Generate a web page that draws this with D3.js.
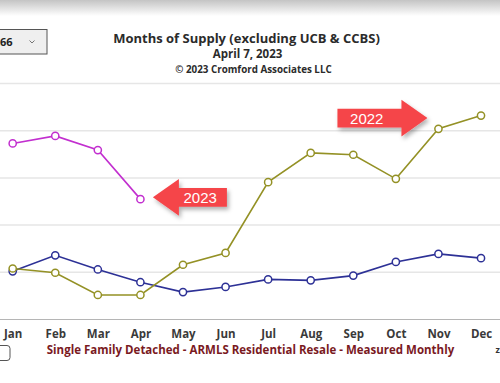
<!DOCTYPE html>
<html><head><meta charset="utf-8">
<script src="https://cdn.jsdelivr.net/npm/d3@7"></script>
<style>html,body{margin:0;padding:0;background:#fff;overflow:hidden}svg{display:block}</style>
</head><body>
<svg id="chart" width="500" height="383"></svg>
<script>
const months = ["Jan","Feb","Mar","Apr","May","Jun","Jul","Aug","Sep","Oct","Nov","Dec"];
const yTicks = [0,1,2,3,4,5];
const s2021 = [1.02,1.36,1.06,0.79,0.58,0.69,0.85,0.83,0.93,1.22,1.39,1.30];
const s2022 = [1.08,0.99,0.52,0.52,1.16,1.41,2.91,3.53,3.49,2.98,4.04,4.32];
const s2023 = [3.73,3.89,3.59,2.55];
const seriesNames = ["2021","2022","2023"];
const seriesColors = ["#2d3196","#949125","#c22fcf"];
const titleText = "Months of Supply (excluding UCB & CCBS)";
const dateText = "April 7, 2023";
const copyText = "© 2023 Cromford Associates LLC";
const footText = "Single Family Detached - ARMLS Residential Resale - Measured Monthly";

const svg = d3.select("#chart");
const defs = svg.append("defs");
const g1 = defs.append("linearGradient").attr("id","topShade").attr("x1",0).attr("x2",0).attr("y1",0).attr("y2",1);
g1.append("stop").attr("offset","0%").attr("stop-color","#c4c4c4");
g1.append("stop").attr("offset","100%").attr("stop-color","#ffffff");
const f = defs.append("filter").attr("id","shadow").attr("x","-20%").attr("y","-30%").attr("width","150%").attr("height","170%");
f.append("feDropShadow").attr("dx",2).attr("dy",3).attr("stdDeviation",2).attr("flood-color","#000").attr("flood-opacity",0.3);

svg.append("rect").attr("x",0).attr("y",0).attr("width",500).attr("height",16).attr("fill","url(#topShade)");

const x = d3.scalePoint().domain(months).range([-8.6, 502.3]).padding(0.5);
const y = d3.scaleLinear().domain([0,5]).range([319.5, 83.5]);

// gridlines
svg.append("g").selectAll("line").data(yTicks.slice(1)).join("line")
  .attr("x1",0).attr("x2",500).attr("y1",d=>y(d)).attr("y2",d=>y(d))
  .attr("stroke","#e6e6e6").attr("stroke-width",1.5);
// baseline
svg.append("line").attr("x1",0).attr("x2",500).attr("y1",y(0)).attr("y2",y(0))
  .attr("stroke","#b5b5b5").attr("stroke-width",1);

// x axis labels
const xAxis = d3.axisBottom(x).tickSize(0).tickPadding(10);
const ax = svg.append("g").attr("transform",`translate(0,${y(0)})`).call(xAxis);
ax.select(".domain").remove();
ax.selectAll("text").attr("font-family","'Open Sans', sans-serif").attr("font-weight","bold")
  .attr("font-size","11.5px").attr("fill","#3a3a3a");

// series
const series = [s2021, s2022, s2023];
const line = d3.line().x((d,i)=>x(months[i])).y(d=>y(d));
series.forEach((s,k)=>{
  const gg = svg.append("g");
  gg.append("path").datum(s).attr("d",line).attr("fill","none")
    .attr("stroke",seriesColors[k]).attr("stroke-width",1.6);
  gg.selectAll("circle").data(s).join("circle")
    .attr("cx",(d,i)=>x(months[i])).attr("cy",d=>y(d)).attr("r",3.6)
    .attr("fill","#fff").attr("stroke",seriesColors[k]).attr("stroke-width",1.5);
});

// titles
const cx = 248;
svg.append("text").attr("x",cx-1.5).attr("y",43).attr("text-anchor","middle")
  .attr("font-family","'Open Sans', sans-serif").attr("font-weight","bold").attr("font-size","13px")
  .attr("fill","#2b2b2b").text(titleText);
svg.append("text").attr("x",cx-0.5).attr("y",58).attr("text-anchor","middle")
  .attr("font-family","'Open Sans', sans-serif").attr("font-weight","bold").attr("font-size","11.5px")
  .attr("fill","#2b2b2b").text(dateText);
svg.append("text").attr("x",cx+5.5).attr("y",72.5).attr("text-anchor","middle")
  .attr("font-family","'Open Sans', sans-serif").attr("font-weight","bold").attr("font-size","9.8px")
  .attr("fill","#2b2b2b").text(copyText);

// footer
svg.append("text").attr("x",250.5).attr("y",353.5).attr("text-anchor","middle")
  .attr("font-family","'Open Sans', sans-serif").attr("font-weight","bold").attr("font-size","11.5px")
  .attr("fill","#7a1a1f").text(footText);
svg.append("text").attr("x",495.5).attr("y",353).attr("font-family","'Open Sans', sans-serif")
  .attr("font-weight","bold").attr("font-size","9px").attr("fill","#333").text("z");

// dropdown
svg.append("rect").attr("x",-6).attr("y",29.5).attr("width",53).attr("height",24.5)
  .attr("fill","#efefef").attr("stroke","#555").attr("stroke-width",1);
svg.append("text").attr("x",12.5).attr("y",46).attr("text-anchor","end")
  .attr("font-family","'Open Sans', sans-serif").attr("font-weight","bold").attr("font-size","11px")
  .attr("fill","#222").text("266");
svg.append("path").attr("d","M29.5,40.5 L32,43 L34.5,40.5").attr("fill","none").attr("stroke","#666").attr("stroke-width",0.9);

// checkbox
svg.append("rect").attr("x",-6).attr("y",345.5).attr("width",16).attr("height",15).attr("rx",3)
  .attr("fill","#fff").attr("stroke","#555").attr("stroke-width",1);

// annotation arrows
function arrow(tipX, tipY, dir, label){
  // dir = -1 pointing left, +1 pointing right
  const head = 26, halfH = 18.3, shaftLen = 48 + (dir>0?16:0), halfS = 9.3;
  const bx = tipX - dir*head;
  const ex = bx - dir*shaftLen;
  const pts = [[tipX,tipY],[bx,tipY-halfH],[bx,tipY-halfS],[ex,tipY-halfS],[ex,tipY+halfS],[bx,tipY+halfS],[bx,tipY+halfH]];
  const ga = svg.append("g").attr("filter","url(#shadow)");
  ga.append("path").attr("d","M"+pts.map(p=>p.join(",")).join("L")+"Z").attr("fill","#f5454a");
  svg.append("text").attr("x",(bx+ex)/2 - 2.7).attr("y",tipY+6).attr("text-anchor","middle")
    .attr("font-family","'Liberation Sans', Arial, sans-serif").attr("font-size","15px").attr("fill","#fff").text(label);
}
arrow(x("Apr")+12.5, y(s2023[3])-1.8, -1, "2023");
arrow(x("Nov")-11, y(s2022[10])-10.7, 1, "2022");
</script>
</body></html>
